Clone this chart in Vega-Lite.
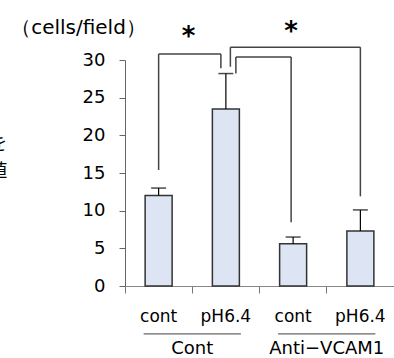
{
  "$schema": "https://vega.github.io/schema/vega-lite/v6.json",
  "width": 269,
  "height": 226,
  "autosize": {"type": "none"},
  "padding": {"left": 125, "top": 60, "right": 0, "bottom": 72},
  "background": "white",
  "config": {"view": {"stroke": null}, "font": "DejaVu Sans"},
  "datasets": {
    "barData": [
      {"id": "c1", "label": "cont", "group": "Cont", "mean": 12.0, "upper": 13.0},
      {"id": "p1", "label": "pH6.4", "group": "Cont", "mean": 23.5, "upper": 28.2},
      {"id": "c2", "label": "cont", "group": "Anti−VCAM1", "mean": 5.6, "upper": 6.5},
      {"id": "p2", "label": "pH6.4", "group": "Anti−VCAM1", "mean": 7.3, "upper": 10.1}
    ],
    "bracketData": [
      {"id": "A", "from": "c1", "to": "p1", "top": 30.8, "lo_from": 15.4, "lo_to": 28.9, "star_at": "c1", "star": 32.0, "sig": "*"},
      {"id": "B", "from": "p1", "to": "p2", "top": 31.7, "lo_from": 29.1, "lo_to": 11.9, "star_at": "c2", "star": 32.6, "sig": "*"},
      {"id": "C", "from": "p1", "to": "c2", "top": 30.4, "lo_from": 28.2, "lo_to": 8.45, "star_at": "c2", "star": 32.6, "sig": ""}
    ],
    "groupData": [
      {"group": "Cont", "first": "c1", "last": "p1"},
      {"group": "Anti−VCAM1", "first": "c2", "last": "p2"}
    ],
    "noteData": [
      {"line": 1, "note": "を"},
      {"line": 2, "note": "値"}
    ]
  },
  "layer": [
    {
      "data": {"name": "barData"},
      "mark": {"type": "bar", "size": 27, "fill": "#dde4f3", "stroke": "#333333", "strokeWidth": 1.5},
      "encoding": {
        "x": {
          "field": "id", "type": "nominal",
          "scale": {"domain": ["c1", "p1", "c2", "p2"], "paddingInner": 0, "paddingOuter": 0},
          "axis": {
            "title": null,
            "labelExpr": "slice(datum.value, 0, 1) == 'c' ? 'cont' : 'pH6.4'",
            "labelAngle": 0, "labelFontSize": 17, "labelColor": "black",
            "labelPadding": 15, "bandPosition": 0, "tickSize": 7,
            "tickColor": "#777777", "domainColor": "#888888", "grid": false
          }
        },
        "y": {
          "field": "mean", "type": "quantitative",
          "scale": {"domain": [0, 30], "nice": false},
          "axis": {
            "title": "（cells/field）",
            "titleFontSize": 20, "titleFontWeight": "normal", "titleColor": "black",
            "titleAngle": 0, "titleAlign": "center", "titleBaseline": "alphabetic",
            "titleX": -47, "titleY": -27,
            "values": [0, 5, 10, 15, 20, 25, 30], "tickCount": 10, "labelOverlap": false,
            "tickSize": 6, "labelPadding": 14, "labelFontSize": 18, "labelColor": "black",
            "grid": false, "domainColor": "#666666", "tickColor": "#666666"
          }
        }
      }
    },
    {
      "data": {"name": "barData"},
      "mark": {"type": "rule", "color": "black", "strokeWidth": 1.2},
      "encoding": {
        "x": {"field": "id", "type": "nominal"},
        "y": {"field": "mean", "type": "quantitative"},
        "y2": {"field": "upper"}
      }
    },
    {
      "data": {"name": "barData"},
      "mark": {"type": "tick", "color": "black", "thickness": 1.5, "size": 15},
      "encoding": {
        "x": {"field": "id", "type": "nominal"},
        "y": {"field": "upper", "type": "quantitative"}
      }
    },
    {
      "data": {"name": "bracketData"},
      "transform": [{"filter": "datum.id === 'A'"}],
      "layer": [
        {"mark": {"type": "rule", "color": "#444444", "strokeWidth": 1.5},
         "encoding": {"x": {"field": "from", "type": "nominal"}, "y": {"field": "lo_from", "type": "quantitative"}, "y2": {"field": "top"}}},
        {"mark": {"type": "rule", "color": "#444444", "strokeWidth": 1.5, "x2Offset": -5},
         "encoding": {"x": {"field": "from", "type": "nominal"}, "x2": {"field": "to"}, "y": {"field": "top", "type": "quantitative"}}},
        {"mark": {"type": "rule", "color": "#444444", "strokeWidth": 1.5, "xOffset": -5},
         "encoding": {"x": {"field": "to", "type": "nominal"}, "y": {"field": "lo_to", "type": "quantitative"}, "y2": {"field": "top"}}},
        {"mark": {"type": "text", "fontWeight": "bold", "fontSize": 26, "baseline": "alphabetic", "align": "center", "xOffset": 30, "color": "black"},
         "encoding": {"x": {"field": "star_at", "type": "nominal"}, "y": {"field": "star", "type": "quantitative"}, "text": {"field": "sig"}}}
      ]
    },
    {
      "data": {"name": "bracketData"},
      "transform": [{"filter": "datum.id === 'B'"}],
      "layer": [
        {"mark": {"type": "rule", "color": "#444444", "strokeWidth": 1.5, "xOffset": 4.5},
         "encoding": {"x": {"field": "from", "type": "nominal"}, "y": {"field": "lo_from", "type": "quantitative"}, "y2": {"field": "top"}}},
        {"mark": {"type": "rule", "color": "#444444", "strokeWidth": 1.5, "xOffset": 4.5},
         "encoding": {"x": {"field": "from", "type": "nominal"}, "x2": {"field": "to"}, "y": {"field": "top", "type": "quantitative"}}},
        {"mark": {"type": "rule", "color": "#444444", "strokeWidth": 1.5},
         "encoding": {"x": {"field": "to", "type": "nominal"}, "y": {"field": "lo_to", "type": "quantitative"}, "y2": {"field": "top"}}},
        {"mark": {"type": "text", "fontWeight": "bold", "fontSize": 26, "baseline": "alphabetic", "align": "center", "xOffset": -2, "color": "black"},
         "encoding": {"x": {"field": "star_at", "type": "nominal"}, "y": {"field": "star", "type": "quantitative"}, "text": {"field": "sig"}}}
      ]
    },
    {
      "data": {"name": "bracketData"},
      "transform": [{"filter": "datum.id === 'C'"}],
      "layer": [
        {"mark": {"type": "rule", "color": "#444444", "strokeWidth": 1.5, "xOffset": 10},
         "encoding": {"x": {"field": "from", "type": "nominal"}, "y": {"field": "lo_from", "type": "quantitative"}, "y2": {"field": "top"}}},
        {"mark": {"type": "rule", "color": "#444444", "strokeWidth": 1.5, "xOffset": 10, "x2Offset": -2},
         "encoding": {"x": {"field": "from", "type": "nominal"}, "x2": {"field": "to"}, "y": {"field": "top", "type": "quantitative"}}},
        {"mark": {"type": "rule", "color": "#444444", "strokeWidth": 1.5, "xOffset": -2},
         "encoding": {"x": {"field": "to", "type": "nominal"}, "y": {"field": "lo_to", "type": "quantitative"}, "y2": {"field": "top"}}}
      ]
    },
    {
      "data": {"name": "groupData"},
      "mark": {"type": "rule", "color": "#666666", "strokeWidth": 1.3, "xOffset": -15, "x2Offset": 15},
      "encoding": {
        "x": {"field": "first", "type": "nominal"},
        "x2": {"field": "last"},
        "y": {"datum": -6.36, "type": "quantitative"}
      }
    },
    {
      "data": {"name": "groupData"},
      "mark": {"type": "text", "fontSize": 18, "baseline": "alphabetic", "align": "center", "xOffset": 33.6, "color": "black"},
      "encoding": {
        "x": {"field": "first", "type": "nominal"},
        "y": {"datum": -9.0, "type": "quantitative"},
        "text": {"field": "group"}
      }
    },
    {
      "data": {"name": "noteData"},
      "transform": [{"filter": "datum.line === 1"}],
      "mark": {"type": "text", "font": "Noto Sans CJK JP", "fontSize": 18, "baseline": "alphabetic", "align": "right", "xOffset": -151.5, "color": "black"},
      "encoding": {
        "x": {"datum": "c1", "type": "nominal"},
        "y": {"datum": 18.1, "type": "quantitative"},
        "text": {"field": "note"}
      }
    },
    {
      "data": {"name": "noteData"},
      "transform": [{"filter": "datum.line === 2"}],
      "mark": {"type": "text", "font": "Noto Sans CJK JP", "fontSize": 18, "baseline": "alphabetic", "align": "right", "xOffset": -151.5, "color": "black"},
      "encoding": {
        "x": {"datum": "c1", "type": "nominal"},
        "y": {"datum": 14.5, "type": "quantitative"},
        "text": {"field": "note"}
      }
    }
  ]
}
